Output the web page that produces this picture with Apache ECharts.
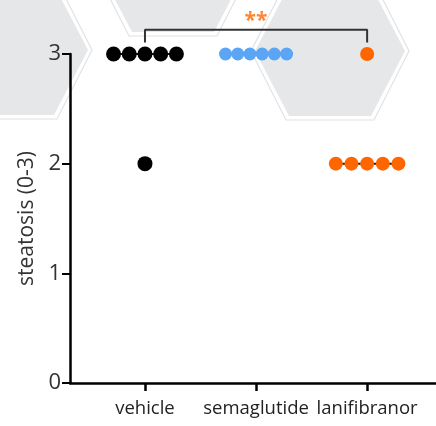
<!DOCTYPE html>
<html><head><meta charset="utf-8">
<script src="https://cdn.jsdelivr.net/npm/echarts@6/dist/echarts.min.js"></script>
<style>html,body{margin:0;padding:0;background:#fff}#c{width:436px;height:426px}</style>
</head><body><div id="c"></div>
<script>
// ---- data ----
const categories = ['vehicle', 'semaglutide', 'lanifibranor'];
const vehicle = [3, 3, 3, 3, 3, 2];
const semaglutide = [3, 3, 3, 3, 3, 3];
const lanifibranor = [3, 2, 2, 2, 2, 2];
const yTicks = [0, 1, 2, 3];
const significance = '**';

// ---- style ----
const groupColors = ['#000000', '#5aa5f5', '#ff6600'];
const groupSizes = [15, 13, 14];
const groupSteps = [0.1415, 0.11, 0.141];
const FONT = '"Open Sans", "Noto Sans", sans-serif';

const groups = [vehicle, semaglutide, lanifibranor];

function swarm(values, center, step) {
  const byVal = {};
  values.forEach(v => { (byVal[v] = byVal[v] || []).push(v); });
  const pts = [];
  Object.keys(byVal).forEach(k => {
    const n = byVal[k].length;
    byVal[k].forEach((v, i) => pts.push([center + (i - (n - 1) / 2) * step, v]));
  });
  return pts;
}
function median(a) {
  const s = a.slice().sort((x, y) => x - y);
  const m = Math.floor(s.length / 2);
  return s.length % 2 ? s[m] : (s[m - 1] + s[m]) / 2;
}

const series = [];
groups.forEach((g, gi) => {
  const c = gi + 1, m = median(g);
  series.push({
    type: 'line', data: [[c - 0.28, m], [c + 0.28, m]], symbol: 'none',
    lineStyle: { color: '#1a1a1a', width: 2 }, z: 2, silent: true
  });
});
groups.forEach((g, gi) => {
  series.push({
    type: 'scatter', data: swarm(g, gi + 1, groupSteps[gi]),
    symbol: 'circle', symbolSize: groupSizes[gi],
    itemStyle: { color: groupColors[gi], opacity: 1 }, z: 3
  });
});
// significance bracket between vehicle (1) and lanifibranor (3)
series.push({
  type: 'line', clip: false, symbol: 'none', z: 3,
  data: [[1, 3.105], [1, 3.22], [3, 3.22], [3, 3.105]],
  lineStyle: { color: '#333', width: 2 }
});
series.push({
  type: 'scatter', clip: false, symbolSize: 0, z: 4,
  data: [[2, 3.30]],
  label: { show: true, position: 'inside', formatter: significance,
    color: '#ff6600', fontSize: 21, fontWeight: 'bold', fontFamily: FONT }
});

// decorative hexagons (pixel layout)
function hex(cx, cy, hw, he, hh) {
  return [[cx - hw, cy], [cx - he, cy + hh], [cx + he, cy + hh], [cx + hw, cy], [cx + he, cy - hh], [cx - he, cy - hh]];
}
const hexCenters = [[13, 50], [173, -33], [330, 51]];
const graphics = [];
hexCenters.forEach(([x, y]) => {
  graphics.push({ type: 'polygon', z: -10, silent: true,
    shape: { points: hex(x, y, 79, 44, 69) },
    style: { fill: 'none', stroke: '#e1e2e4', lineWidth: 1.2 } });
  graphics.push({ type: 'polygon', z: -10, silent: true,
    shape: { points: hex(x, y, 75, 41, 65) },
    style: { fill: '#e6e7e9', stroke: 'none' } });
});

const chart = echarts.init(document.getElementById('c'), null, { renderer: 'canvas' });
chart.setOption({
  backgroundColor: '#ffffff',
  animation: false,
  graphic: graphics,
  grid: { left: 70, right: 0, top: 54, bottom: 43, containLabel: false, outerBoundsMode: 'none' },
  xAxis: {
    type: 'value', min: 0.325, max: 3.62,
    axisLine: { show: true, onZero: false, lineStyle: { color: '#000', width: 2.5 } },
    axisTick: { show: true, customValues: [1, 2, 3], length: 8, lineStyle: { color: '#000', width: 2.5 } },
    axisLabel: { customValues: [1, 2, 3], formatter: v => categories[Math.round(v) - 1],
      fontSize: 18.5, color: '#222', margin: 16, fontFamily: FONT },
    splitLine: { show: false }
  },
  yAxis: {
    type: 'value', min: yTicks[0], max: yTicks[yTicks.length - 1], interval: 1,
    axisLine: { show: true, lineStyle: { color: '#000', width: 2.5 } },
    axisTick: { show: true, length: 8, lineStyle: { color: '#000', width: 2 } },
    axisLabel: { fontSize: 22, color: '#333', margin: 9, fontFamily: FONT },
    splitLine: { show: false },
    name: 'steatosis (0-3)', nameLocation: 'middle', nameGap: 31,
    nameTextStyle: { fontSize: 21, color: '#333', fontFamily: FONT }
  },
  series: series
});
</script></body></html>
